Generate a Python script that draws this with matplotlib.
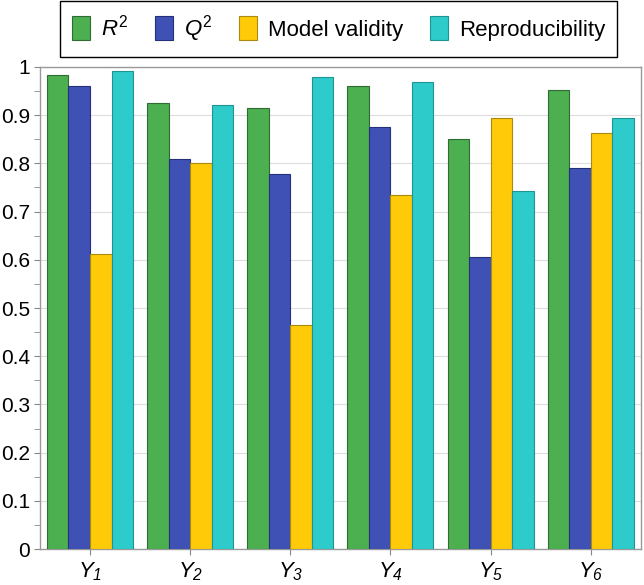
import numpy as np
import matplotlib
matplotlib.use("Agg")
import matplotlib.pyplot as plt

plt.rcParams['font.family'] = ['Liberation Sans', 'DejaVu Sans']
plt.rcParams['mathtext.fontset'] = 'custom'
plt.rcParams['mathtext.rm'] = 'Liberation Sans'
plt.rcParams['mathtext.it'] = 'Liberation Sans:italic'
plt.rcParams['mathtext.sf'] = 'Liberation Sans:italic'

# data
categories = [r'$Y_\mathsf{1}$', r'$Y_\mathsf{2}$', r'$Y_\mathsf{3}$',
              r'$Y_\mathsf{4}$', r'$Y_\mathsf{5}$', r'$Y_\mathsf{6}$']
r2 = [0.983, 0.925, 0.915, 0.960, 0.851, 0.952]
q2 = [0.961, 0.809, 0.778, 0.876, 0.606, 0.790]
model_validity = [0.612, 0.800, 0.465, 0.734, 0.894, 0.863]
reproducibility = [0.992, 0.921, 0.979, 0.969, 0.743, 0.894]

series = [r2, q2, model_validity, reproducibility]
labels = [r'$R^2$', r'$Q^2$', 'Model validity', 'Reproducibility']
colors = ['#4caf50', '#3f51b5', '#ffca08', '#2ecbcb']
edges = ['#2f6b32', '#26307a', '#a88a10', '#1f9494']

fig = plt.figure(figsize=(6.44, 5.85), dpi=100)
ax = fig.add_axes([0.062, 0.0615, 0.933, 0.824])

x = np.arange(len(categories))
w = 0.215
handles = []
for i, (vals, lab, c, ec) in enumerate(zip(series, labels, colors, edges)):
    b = ax.bar(x + (i - 1.5) * w, vals, w, color=c, edgecolor=ec,
               linewidth=0.8, label=lab, zorder=3)
    handles.append(b)

ax.set_xlim(-0.5, len(categories) - 0.5)
ax.set_ylim(0, 1)
ax.set_yticks(np.arange(0, 1.01, 0.1))
ax.set_yticklabels(['0', '0.1', '0.2', '0.3', '0.4', '0.5', '0.6', '0.7', '0.8', '0.9', '1'])
ax.set_yticks(np.arange(0.05, 1.0, 0.1), minor=True)
ax.set_xticks(x)
ax.set_xticklabels(categories, fontsize=16)
ax.tick_params(axis='y', labelsize=15, length=4, color='#888888', pad=3)
ax.tick_params(axis='y', which='minor', length=4, color='#888888')
ax.tick_params(axis='x', length=4, color='#888888', pad=4)
ax.grid(axis='y', color='#dddddd', linewidth=0.8, zorder=0)
for s in ax.spines.values():
    s.set_color('#999999')
    s.set_linewidth(1)

fig.legend(handles=handles, labels=labels, loc='upper center',
           bbox_to_anchor=(0.526, 0.998), ncol=4, fontsize=16,
           fancybox=False, edgecolor='black', framealpha=1,
           handlelength=0.8, handleheight=1.3, columnspacing=1.2,
           handletextpad=0.5, borderpad=0.55, borderaxespad=0)

plt.savefig('out.png', dpi=100)
